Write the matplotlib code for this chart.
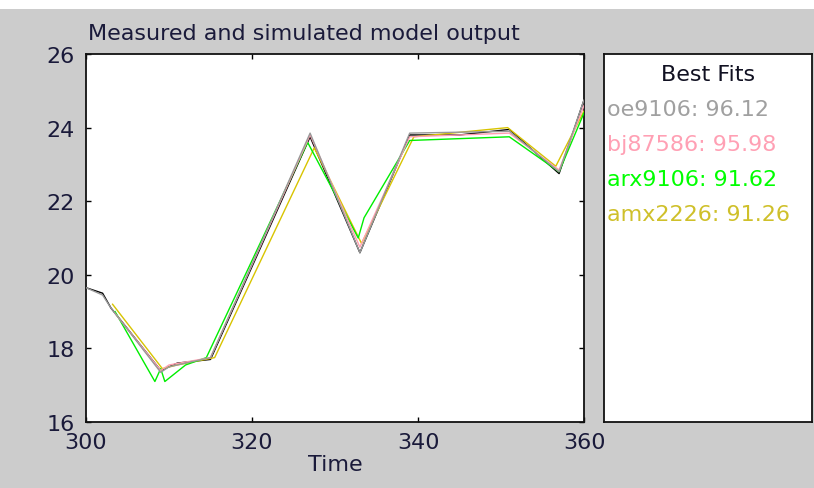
import matplotlib
matplotlib.use("Agg")
import matplotlib.pyplot as plt
from matplotlib.patches import Rectangle

# measured output (black)
t_meas = [300, 302, 303, 309, 311, 315, 327, 333, 339, 345, 351, 357, 360]
y_meas = [19.65, 19.5, 19.1, 17.4, 17.6, 17.7, 23.75, 20.6, 23.8, 23.8, 23.95, 22.75, 24.75]

# oe9106 (grey)
t_oe = [300, 302, 303, 309, 310, 315, 327, 333, 339, 351, 357, 360]
y_oe = [19.65, 19.45, 19.1, 17.35, 17.5, 17.75, 23.85, 20.6, 23.85, 23.9, 22.8, 24.75]

# bj87586 (pink)
t_bj = [303.5, 309, 310, 315, 327, 333, 339, 351, 357, 360]
y_bj = [18.95, 17.4, 17.55, 17.75, 23.8, 20.75, 23.75, 23.85, 22.85, 24.6]

# arx9106 (green)
t_arx = [303.5, 308.3, 309.0, 309.5, 312, 314.5, 326.7, 332.8, 333.5, 339, 351, 357, 360]
y_arx = [19.0, 17.1, 17.45, 17.1, 17.55, 17.75, 23.6, 21.0, 21.55, 23.65, 23.75, 22.8, 24.4]

# amx2226 (yellow)
t_amx = [303.2, 309.2, 311, 315.5, 327.5, 333.2, 339.5, 350.8, 356.6, 360]
y_amx = [19.2, 17.45, 17.55, 17.75, 23.45, 20.85, 23.75, 24.0, 22.95, 24.45]

fit_labels = ["oe9106: 96.12", "bj87586: 95.98", "arx9106: 91.62", "amx2226: 91.26"]
fit_colors = ["#a0a0a0", "#ffa0b4", "#00ff00", "#cfc02a"]

x_ticks = [300, 320, 340, 360]
y_ticks = [16, 18, 20, 22, 24, 26]

plt.rcParams['font.family'] = 'DejaVu Sans'
txt = '#1a1a3a'
fs = 16

W, H = 814, 489
fig = plt.figure(figsize=(W / 100, H / 100), dpi=100, facecolor='#cccccc')
fig.patches.append(Rectangle((0, 1 - 10 / H), 1, 10 / H, transform=fig.transFigure,
                             facecolor='white', edgecolor='none', zorder=-1))

ax = fig.add_axes([86 / W, 1 - 423 / H, (584 - 86) / W, (423 - 55) / H])
ax.set_facecolor('white')

ax.plot(t_meas, y_meas, color='black', lw=1.0, zorder=2)
ax.plot(t_amx, y_amx, color='#d8c400', lw=1.0, zorder=3)
ax.plot(t_arx, y_arx, color='#00ee00', lw=1.0, zorder=4)
ax.plot(t_bj, y_bj, color='#ff9fb0', lw=1.0, zorder=5)
ax.plot(t_oe, y_oe, color='#999999', lw=1.0, zorder=6)

ax.set_xlim(300, 360)
ax.set_ylim(16, 26)
ax.set_xticks(x_ticks)
ax.set_yticks(y_ticks)
ax.tick_params(direction='in', length=3.6, width=1, top=True, right=True,
               labelsize=fs, labelcolor=txt)
ax.tick_params(axis='y', pad=8)
ax.tick_params(axis='x', pad=7)
for s in ax.spines.values():
    s.set_linewidth(1.3)
    s.set_color('#111111')

ax.set_xlabel("Time", fontsize=fs, color=txt, labelpad=2)
ax.set_title("Measured and simulated model output", fontsize=fs, color=txt,
             loc='left', pad=11, x=0.004)

# legend panel
lax = fig.add_axes([604 / W, 1 - 423 / H, (812 - 604) / W, (423 - 55) / H])
lax.set_facecolor('white')
lax.set_xticks([])
lax.set_yticks([])
for s in lax.spines.values():
    s.set_linewidth(1.3)
    s.set_color('#111111')

lax.text(0.5, 1 - (75 - 55) / 368, "Best Fits", ha='center', va='center',
         fontsize=fs, color='#111122', transform=lax.transAxes)
for i, (lab, col) in enumerate(zip(fit_labels, fit_colors)):
    yc = 110 + i * 35
    lax.text(3 / 208, 1 - (yc - 55) / 368, lab, ha='left', va='center',
             fontsize=fs, color=col, transform=lax.transAxes)

fig.savefig("out.png", dpi=100, facecolor=fig.get_facecolor())
